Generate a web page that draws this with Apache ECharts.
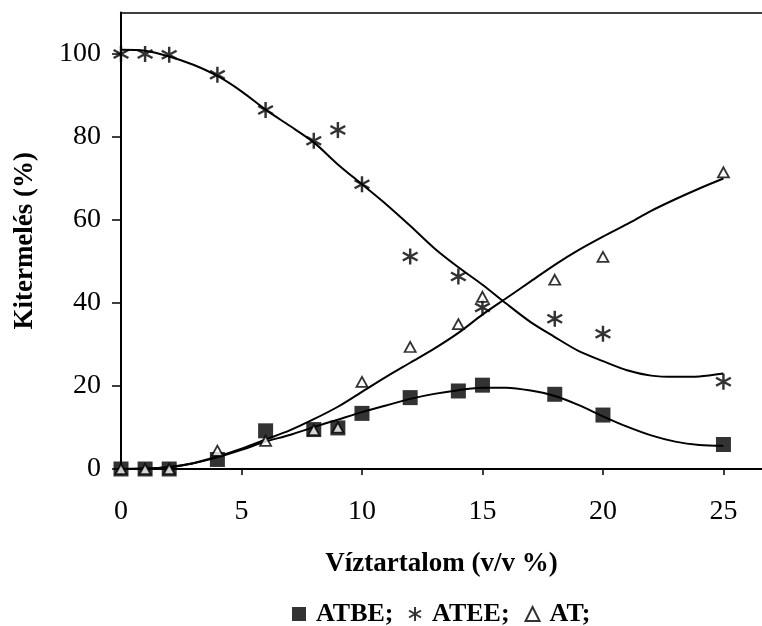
<!DOCTYPE html>
<html>
<head>
<meta charset="utf-8">
<style>
  html, body { margin: 0; padding: 0; background: #fff; }
  #chart { width: 762px; height: 626px; }
</style>
<script src="https://cdn.jsdelivr.net/npm/echarts@6/dist/echarts.min.js"></script>
</head>
<body>
<div id="chart"></div>
<script>
// Measured points: water content (v/v %) vs. yield (%)
var waterContent = [0, 1, 2, 4, 6, 8, 9, 10, 12, 14, 15, 18, 20, 25];
var atbeYield = [0, 0, 0, 2.3, 9.2, 9.5, 9.9, 13.4, 17.2, 18.8, 20.2, 18.0, 13.0, 5.9];
var ateeYield = [100, 100, 99.8, 95, 86.5, 79.1, 81.7, 68.6, 51.2, 46.4, 38.9, 36.2, 32.6, 21.0];
var atYield = [0, 0, 0, 4.4, 6.8, 9.4, 10.0, 21.0, 29.4, 34.9, 41.5, 45.6, 51.1, 71.5];

// Fitted trend curves, sampled at whole percent steps
var fitX = [0, 1, 2, 3, 4, 5, 6, 7, 8, 9, 10, 11, 12, 13, 14, 15, 16, 17, 18, 19, 20, 21, 22, 23, 24, 25];
var atbeFit = [0, 0.1, 0.5, 1.4, 2.8, 4.6, 6.6, 8.2, 10.1, 11.9, 13.7, 15.3, 16.9, 18.1, 19.0, 19.6, 19.6, 18.9, 17.6, 15.4, 12.7, 10.2, 8.1, 6.6, 5.8, 5.6];
var ateeFit = [101.0, 100.8, 99.4, 97.4, 94.7, 91.0, 86.6, 82.7, 78.7, 73.4, 68.6, 63.8, 58.6, 53.2, 48.6, 44.4, 39.8, 35.4, 31.8, 28.4, 26.0, 23.8, 22.5, 22.2, 22.3, 23.0];
var atFit = [0, 0.1, 0.4, 1.4, 3.0, 4.9, 7.1, 9.3, 12.0, 15.0, 18.6, 22.2, 25.6, 29.0, 32.8, 37.2, 41.2, 45.2, 49.2, 52.8, 56.0, 59.0, 62.2, 65.0, 67.6, 70.0];

var xTicks = [0, 5, 10, 15, 20, 25];
var yTicks = [0, 20, 40, 60, 80, 100];

function pairs(xs, ys) {
  return xs.map(function (x, i) { return [x, ys[i]]; });
}

// Six-armed asterisk built from three filled bars (same winding, so overlaps stay filled)
var asterisk = 'path://M6,0L8,0L8,14L6,14Z' +
  'M1.504,2.636L13.504,9.636L12.496,11.364L0.496,4.364Z' +
  'M0.496,9.636L12.496,2.636L13.504,4.364L1.504,11.364Z';
var serif = 'Liberation Serif';
var xMax = 26.6;

var chart = echarts.init(document.getElementById('chart'), null, { renderer: 'canvas' });

function fitLine(data) {
  return {
    type: 'line',
    data: data,
    smooth: 0.3,
    showSymbol: false,
    silent: true,
    lineStyle: { color: '#000', width: 2 },
    z: 2
  };
}

chart.setOption({
  animation: false,
  backgroundColor: '#fff',
  grid: { left: 121, top: 12.5, right: 0, bottom: 157 },
  legend: {
    top: 596,
    left: 287,
    itemWidth: 14,
    itemHeight: 14,
    itemGap: 15,
    data: [
      { name: 'ATBE', icon: 'rect' },
      { name: 'ATEE', icon: asterisk },
      { name: 'AT', icon: 'triangle' }
    ],
    formatter: function (name) { return name + ';'; },
    textStyle: { fontFamily: serif, fontWeight: 'bold', fontSize: 26, color: '#000', padding: [0, 0, 0, 5] }
  },
  xAxis: [{
    type: 'value',
    min: 0, max: xMax,
    name: 'Víztartalom (v/v %)',
    nameLocation: 'middle',
    nameGap: 82,
    nameTextStyle: { fontFamily: serif, fontWeight: 'bold', fontSize: 27, color: '#000' },
    axisLine: { onZero: false, lineStyle: { color: '#000', width: 2 } },
    axisTick: { show: true, length: 6, lineStyle: { color: '#000', width: 1.5 }, customValues: xTicks },
    axisLabel: { customValues: xTicks, margin: 29, fontFamily: serif, fontSize: 28, color: '#000' },
    splitLine: { show: false }
  }, {
    // top frame edge of the plot area
    type: 'value',
    position: 'top',
    min: 0, max: xMax,
    axisLine: { onZero: false, lineStyle: { color: '#000', width: 1.5 } },
    axisTick: { show: false },
    axisLabel: { show: false },
    splitLine: { show: false }
  }],
  yAxis: {
    type: 'value',
    min: 0, max: 110,
    name: 'Kitermelés (%)',
    nameLocation: 'middle',
    nameGap: 82,
    nameTextStyle: { fontFamily: serif, fontWeight: 'bold', fontSize: 27, color: '#000' },
    axisLine: { onZero: false, lineStyle: { color: '#000', width: 2 } },
    axisTick: { show: true, length: 9, lineStyle: { color: '#000', width: 1.5 }, customValues: yTicks },
    axisLabel: { customValues: yTicks, margin: 20, fontFamily: serif, fontSize: 28, color: '#000' },
    splitLine: { show: false }
  },
  series: [
    fitLine(pairs(fitX, atbeFit)),
    fitLine(pairs(fitX, ateeFit)),
    fitLine(pairs(fitX, atFit)),
    {
      name: 'ATBE',
      type: 'scatter',
      data: pairs(waterContent, atbeYield),
      symbol: 'rect',
      symbolSize: 15,
      itemStyle: { color: '#000' },
      z: 3
    },
    {
      name: 'ATEE',
      type: 'scatter',
      data: pairs(waterContent, ateeYield),
      symbol: asterisk,
      symbolSize: 16,
      itemStyle: { color: '#000' },
      z: 4
    },
    {
      name: 'AT',
      type: 'scatter',
      data: pairs(waterContent, atYield),
      symbol: 'triangle',
      symbolSize: [11, 10],
      itemStyle: { color: '#fff', borderColor: '#000', borderWidth: 1.8 },
      z: 5
    }
  ]
});
</script>
</body>
</html>
